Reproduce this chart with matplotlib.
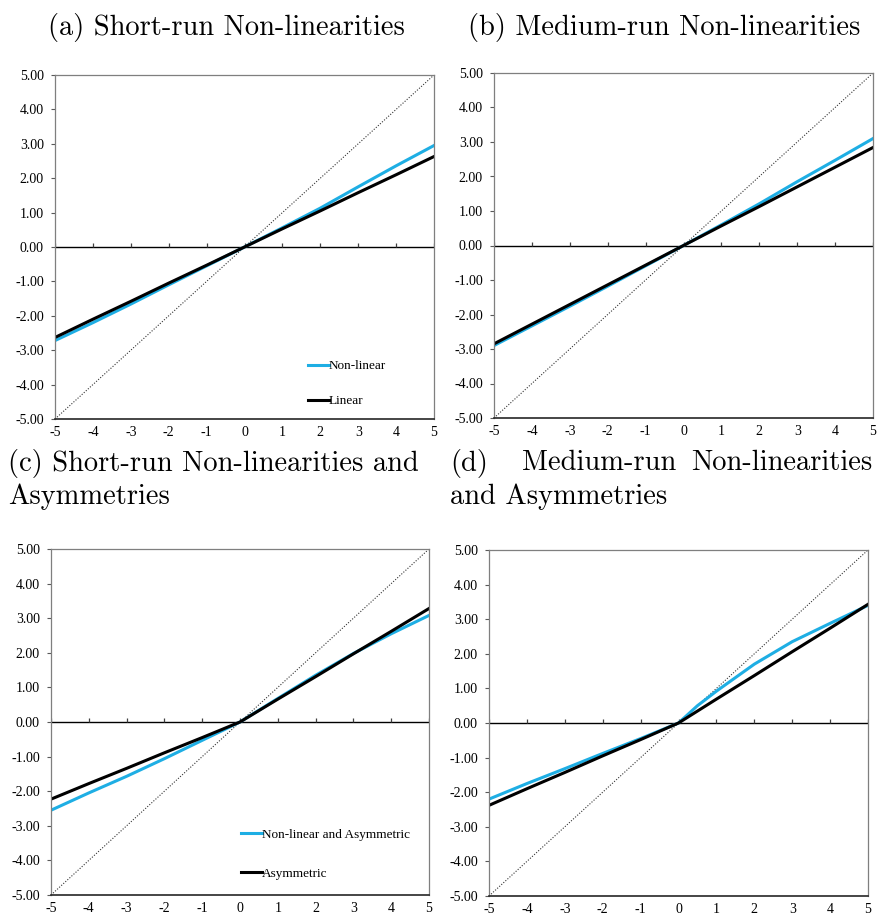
import matplotlib
matplotlib.use("Agg")
import matplotlib.pyplot as plt
from matplotlib.ticker import FormatStrFormatter

plt.rcParams['axes.unicode_minus'] = False
plt.rcParams['font.family'] = 'Liberation Serif'

# shock sizes and responses
x = [-5, -4, -3, -2, -1, 0, 1, 2, 3, 4, 5]
x_d_nl = [-5, -4, -3, -2, -1, 0, 0.5, 1, 2, 3, 4, 5]

a_nonlinear = [-2.72, -2.20, -1.66, -1.10, -0.55, 0, 0.56, 1.13, 1.75, 2.36, 2.95]
a_linear = [-2.63, -2.10, -1.58, -1.05, -0.53, 0, 0.53, 1.05, 1.58, 2.10, 2.63]

b_nonlinear = [-2.90, -2.33, -1.76, -1.18, -0.59, 0, 0.60, 1.21, 1.85, 2.47, 3.10]
b_linear = [-2.85, -2.28, -1.71, -1.14, -0.57, 0, 0.57, 1.13, 1.70, 2.27, 2.84]

c_nonlinear_asym = [-2.55, -2.05, -1.57, -1.06, -0.53, 0, 0.68, 1.35, 1.98, 2.55, 3.08]
c_asym = [-2.23, -1.78, -1.34, -0.89, -0.45, 0, 0.66, 1.31, 1.97, 2.62, 3.28]

d_nonlinear_asym = [-2.20, -1.75, -1.32, -0.88, -0.45, 0, 0.50, 0.92, 1.70, 2.35, 2.88, 3.40]
d_asym = [-2.38, -1.90, -1.43, -0.95, -0.48, 0, 0.69, 1.37, 2.06, 2.74, 3.43]

x_ticks = [-5, -4, -3, -2, -1, 0, 1, 2, 3, 4, 5]
y_ticks = [-5, -4, -3, -2, -1, 0, 1, 2, 3, 4, 5]

BLUE = '#1EAEE4'
W, H = 877, 916

fig = plt.figure(figsize=(W / 100, H / 100), dpi=100)


def make_axes(left, top, right, bottom):
    return fig.add_axes([left / W, 1 - bottom / H, (right - left) / W, (bottom - top) / H])


def style(ax):
    ax.set_xlim(-5, 5)
    ax.set_ylim(-5, 5)
    ax.set_xticks(x_ticks)
    ax.set_yticks(y_ticks)
    ax.yaxis.set_major_formatter(FormatStrFormatter('%.2f'))
    ax.tick_params(axis='x', length=0, pad=5, labelsize=10)
    ax.tick_params(axis='y', length=3, width=0.8, color='#595959', pad=5, labelsize=10)
    for side in ['left', 'top', 'right']:
        ax.spines[side].set_color('#7f7f7f')
        ax.spines[side].set_linewidth(0.9)
    ax.spines['bottom'].set_color('#262626')
    ax.spines['bottom'].set_linewidth(1.2)
    # 45-degree reference line
    ax.plot([-5, 5], [-5, 5], color='#333333', linestyle=(0, (1, 1.5)), linewidth=0.8)
    # horizontal axis crossing at zero with upward tick marks
    ax.axhline(0, color='black', linewidth=1.0)
    ax.plot(x_ticks, [0] * len(x_ticks), linestyle='none', marker=2,
            markersize=3.2, markeredgewidth=0.9, color='#404040')


ax_a = make_axes(55, 75, 434, 419)
ax_b = make_axes(494, 73, 873, 418)
ax_c = make_axes(51, 549, 429, 895)
ax_d = make_axes(489, 550, 868, 896)

for ax in [ax_a, ax_b, ax_c, ax_d]:
    style(ax)

ax_a.plot(x, a_nonlinear, color=BLUE, linewidth=2.2, label='Non-linear')
ax_a.plot(x, a_linear, color='black', linewidth=2.2, label='Linear')
ax_a.legend(loc='lower right', bbox_to_anchor=(0.905, 0.0), frameon=False, fontsize=9.5,
            handlelength=1.6, handletextpad=0.0, labelspacing=1.7)

ax_b.plot(x, b_nonlinear, color=BLUE, linewidth=2.2)
ax_b.plot(x, b_linear, color='black', linewidth=2.2)

ax_c.plot(x, c_nonlinear_asym, color=BLUE, linewidth=2.2, label='Non-linear and Asymmetric')
ax_c.plot(x, c_asym, color='black', linewidth=2.2, label='Asymmetric')
ax_c.legend(loc='lower left', bbox_to_anchor=(0.47, 0.01), frameon=False, fontsize=9.5,
            handlelength=1.6, handletextpad=0.0, labelspacing=2.0)

ax_d.plot(x_d_nl, d_nonlinear_asym, color=BLUE, linewidth=2.2)
ax_d.plot(x, d_asym, color='black', linewidth=2.2)

# panel captions
cap = dict(family='cmr10', fontsize=20.5, va='center', ha='left')
fig.text(48 / W, 1 - 27 / H, '(a) Short-run Non-linearities', **cap)
fig.text(468 / W, 1 - 27 / H, '(b) Medium-run Non-linearities', **cap)
fig.text(8 / W, 1 - 463 / H, '(c) Short-run Non-linearities and', **cap)
fig.text(8 / W, 1 - 497 / H, 'Asymmetries', **cap)
fig.text(450 / W, 1 - 463 / H, '(d)', **cap)
fig.text(599 / W, 1 - 463 / H, 'Medium-run', family='cmr10', fontsize=20.5,
         va='center', ha='center')
fig.text(872 / W, 1 - 463 / H, 'Non-linearities', family='cmr10', fontsize=20.5,
         va='center', ha='right')
fig.text(450 / W, 1 - 497 / H, 'and Asymmetries', **cap)

fig.savefig('out.png', dpi=100)
